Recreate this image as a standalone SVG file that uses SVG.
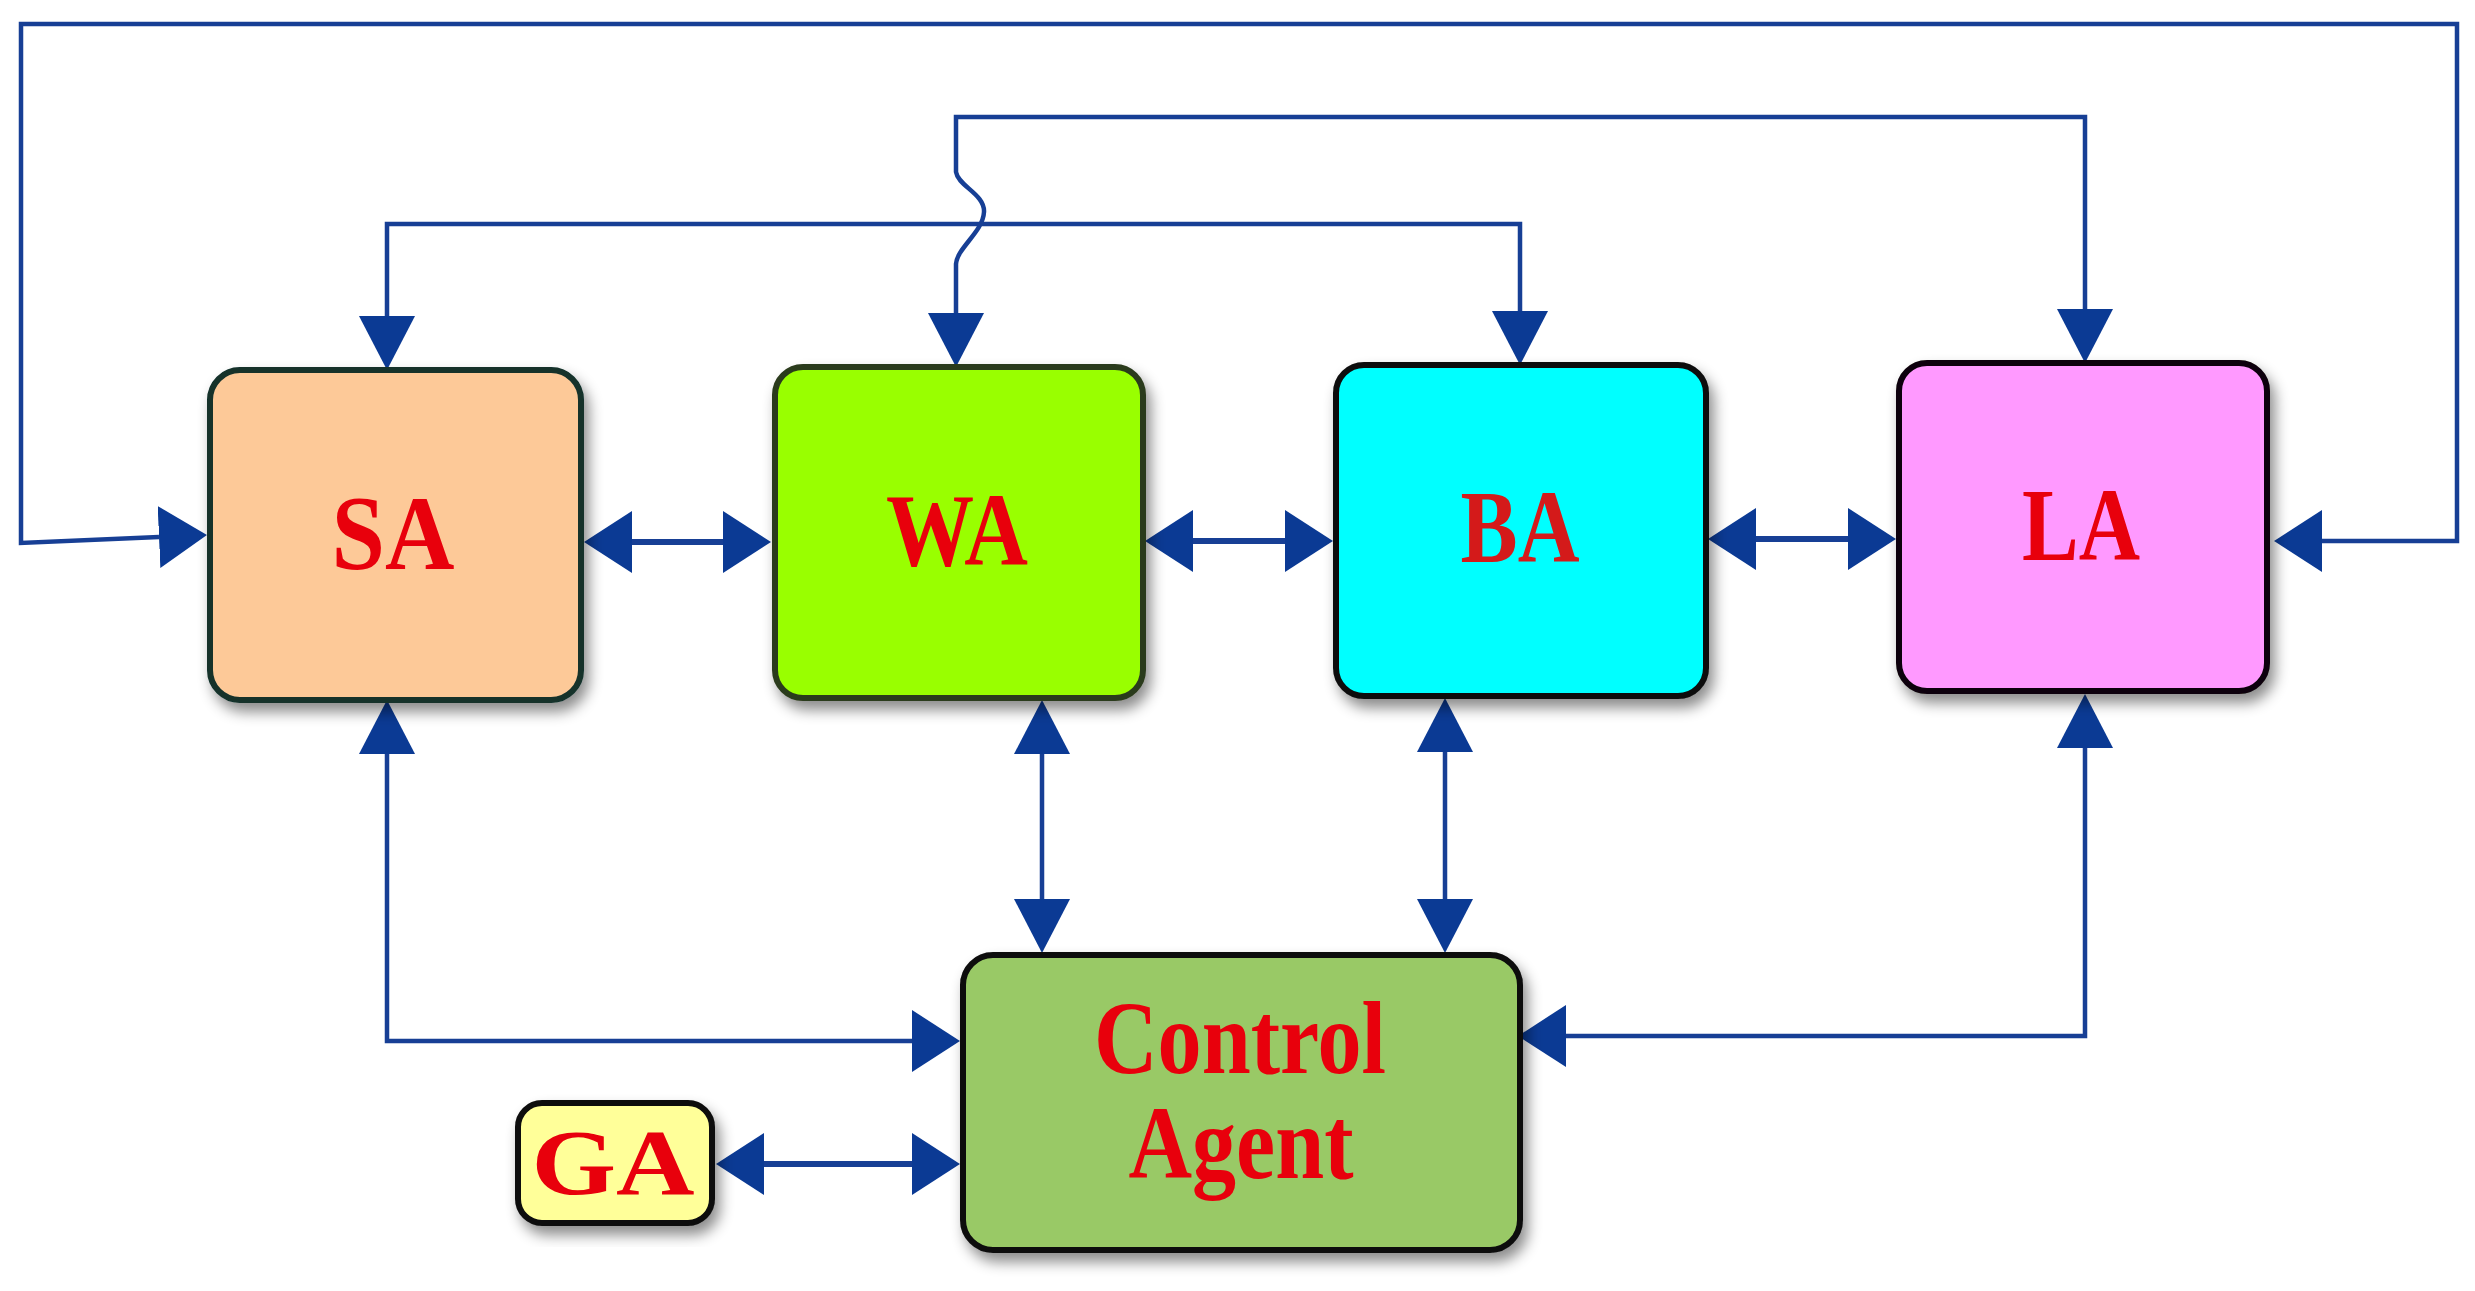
<svg xmlns="http://www.w3.org/2000/svg" width="2475" height="1291" viewBox="0 0 2475 1291">
<style>
.box{stroke-width:6}
.lbl{font-family:"Liberation Serif","Times New Roman",serif;font-weight:bold;fill:#e8000c;text-anchor:middle}
.con{fill:none;stroke:#173f95;stroke-width:4.5;stroke-linejoin:miter}
.thick{stroke-width:6}
</style>
<defs>
<filter id="sh" x="-10%" y="-10%" width="130%" height="130%">
<feDropShadow dx="5" dy="9" stdDeviation="7" flood-color="#000" flood-opacity="0.45"/>
</filter>
<marker id="ah" markerUnits="userSpaceOnUse" markerWidth="48" markerHeight="62" viewBox="0 0 48 62" refX="0" refY="31" orient="auto-start-reverse">
<path d="M0,0 L48,31 L0,62 Z" fill="#0b3a94"/>
</marker>
<marker id="av" markerUnits="userSpaceOnUse" markerWidth="54" markerHeight="56" viewBox="0 0 54 56" refX="0" refY="28" orient="auto-start-reverse">
<path d="M0,0 L54,28 L0,56 Z" fill="#0b3a94"/>
</marker>
</defs>
<rect width="2475" height="1291" fill="#ffffff"/>

<g id="connectors">
<!-- outer loop SA <-> LA -->
<path class="con" d="M159,537 L21,543 L21,24 L2457,24 L2457,541 L2322,541" marker-start="url(#ah)" marker-end="url(#ah)"/>
<!-- WA <-> LA with jump -->
<path class="con" d="M956,313 L956,264 C957,248 983,232 984,212 C985,194 958,186 956,172 L956,117 L2085,117 L2085,309" marker-start="url(#av)" marker-end="url(#av)"/>
<!-- SA <-> BA -->
<path class="con" d="M387,316 L387,224 L1520,224 L1520,311" marker-start="url(#av)" marker-end="url(#av)"/>
<!-- horizontal neighbours -->
<path class="con thick" d="M632,542 L723,542" marker-start="url(#ah)" marker-end="url(#ah)"/>
<path class="con thick" d="M1193,541 L1285,541" marker-start="url(#ah)" marker-end="url(#ah)"/>
<path class="con thick" d="M1756,539 L1848,539" marker-start="url(#ah)" marker-end="url(#ah)"/>
<!-- to Control Agent -->
<path class="con" d="M387,754 L387,1041 L912,1041" marker-start="url(#av)" marker-end="url(#ah)"/>
<path class="con" d="M1042,754 L1042,899" marker-start="url(#av)" marker-end="url(#av)"/>
<path class="con" d="M1445,752 L1445,899" marker-start="url(#av)" marker-end="url(#av)"/>
<path class="con" d="M2085,748 L2085,1036 L1566,1036" marker-start="url(#av)" marker-end="url(#ah)"/>
<path class="con thick" d="M764,1164 L912,1164" marker-start="url(#ah)" marker-end="url(#ah)"/>
</g>

<g id="SA">
<rect class="box" x="210" y="370" width="371" height="330" rx="30" fill="#fdc998" stroke="#12302a" filter="url(#sh)"/>
<text class="lbl" x="393" y="569" font-size="106" textLength="123" lengthAdjust="spacingAndGlyphs">SA</text>
</g>
<g id="WA">
<rect class="box" x="775" y="367" width="368" height="331" rx="28" fill="#99ff00" stroke="#2c3a1c" filter="url(#sh)"/>
<text class="lbl" x="957" y="565" font-size="104" textLength="142" lengthAdjust="spacingAndGlyphs">WA</text>
</g>
<g id="BA">
<rect class="box" x="1336" y="365" width="370" height="331" rx="28" fill="#00ffff" stroke="#0a0a0a" filter="url(#sh)"/>
<text class="lbl" x="1520" y="562" font-size="104" textLength="119" lengthAdjust="spacingAndGlyphs" style="fill:#d41a1a">BA</text>
</g>
<g id="LA">
<rect class="box" x="1899" y="363" width="368" height="328" rx="28" fill="#ff99ff" stroke="#0a0008" filter="url(#sh)"/>
<text class="lbl" x="2081" y="560" font-size="104" textLength="118" lengthAdjust="spacingAndGlyphs">LA</text>
</g>
<g id="ControlAgent">
<rect class="box" x="963" y="955" width="557" height="295" rx="30" fill="#99c966" stroke="#0a0a0a" filter="url(#sh)"/>
<text class="lbl" x="1240" y="1073" font-size="103" textLength="292" lengthAdjust="spacingAndGlyphs">Control</text>
<text class="lbl" x="1241" y="1178" font-size="103" textLength="225" lengthAdjust="spacingAndGlyphs">Agent</text>
</g>
<g id="GA">
<rect class="box" x="518" y="1103" width="194" height="120" rx="24" fill="#ffff99" stroke="#0a0a0a" filter="url(#sh)"/>
<text class="lbl" x="613" y="1194" font-size="94" textLength="163" lengthAdjust="spacingAndGlyphs">GA</text>
</g>
</svg>
